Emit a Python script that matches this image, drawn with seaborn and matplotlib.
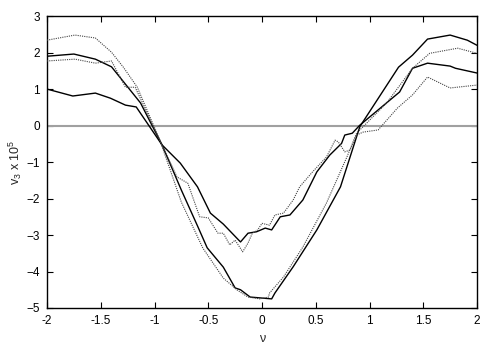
import numpy as np
import pandas as pd
import matplotlib
matplotlib.use("Agg")
import matplotlib.pyplot as plt
import seaborn as sns

# data
x_deep_solid = [-2.0, -1.75, -1.55, -1.40, -1.13, -0.93, -0.75, -0.60, -0.51, -0.36, -0.25, -0.20,
                -0.11, 0.09, 0.12, 0.29, 0.51, 0.73, 0.91, 1.27, 1.40, 1.54, 1.75, 1.91, 2.0]
y_deep_solid = [1.90, 1.96, 1.82, 1.61, 0.62, -0.53, -1.77, -2.75, -3.35, -3.88, -4.45, -4.50,
                -4.70, -4.75, -4.59, -3.87, -2.86, -1.68, -0.03, 1.60, 1.93, 2.37, 2.48, 2.34, 2.20]

x_shallow_solid = [-2.0, -1.76, -1.55, -1.41, -1.27, -1.17, -0.93, -0.76, -0.60, -0.48, -0.36,
                   -0.20, -0.13, -0.05, 0.03, 0.09, 0.17, 0.26, 0.38, 0.51, 0.63, 0.74, 0.77,
                   0.84, 0.91, 1.28, 1.40, 1.54, 1.75, 1.80, 2.0]
y_shallow_solid = [1.00, 0.81, 0.89, 0.75, 0.56, 0.51, -0.53, -1.03, -1.68, -2.40, -2.70,
                   -3.19, -2.95, -2.91, -2.81, -2.86, -2.50, -2.45, -2.04, -1.27, -0.81, -0.49, -0.26,
                   -0.21, 0.01, 0.92, 1.57, 1.71, 1.63, 1.57, 1.44]

x_deep_dot = [-2.0, -1.74, -1.55, -1.40, -1.29, -1.16, -0.95, -0.75, -0.55, -0.36, -0.23,
              -0.13, -0.02, 0.06, 0.07, 0.20, 0.38, 0.60, 0.79, 0.88, 1.16, 1.40, 1.56, 1.82, 2.0]
y_deep_dot = [2.34, 2.48, 2.40, 2.01, 1.60, 1.05, -0.40, -2.10, -3.36, -4.18, -4.51,
              -4.70, -4.75, -4.70, -4.59, -4.15, -3.33, -2.12, -0.86, -0.21, 0.62, 1.57, 1.98, 2.12, 1.98]

x_shallow_dot = [-2.0, -1.74, -1.55, -1.40, -1.27, -1.18, -0.93, -0.79, -0.69, -0.58, -0.50,
                 -0.41, -0.36, -0.30, -0.25, -0.18, -0.13, -0.09, -0.04, 0.0, 0.07, 0.12, 0.20,
                 0.29, 0.35, 0.47, 0.60, 0.68, 0.71, 0.77, 0.82, 0.88, 0.94, 1.08, 1.26, 1.40,
                 1.54, 1.75, 2.0]
y_shallow_dot = [1.77, 1.82, 1.71, 1.77, 1.05, 1.05, -0.53, -1.41, -1.58, -2.50, -2.53,
                 -2.95, -2.95, -3.27, -3.14, -3.46, -3.22, -2.95, -2.86, -2.68, -2.73, -2.45, -2.40,
                 -2.04, -1.68, -1.27, -0.86, -0.40, -0.45, -0.72, -0.67, -0.26, -0.18, -0.12, 0.48, 0.84,
                 1.33, 1.03, 1.11]

x_ticks = [-2, -1.5, -1, -0.5, 0, 0.5, 1, 1.5, 2]
x_tick_labels = ["-2", "-1.5", "-1", "-0.5", "0", "0.5", "1", "1.5", "2"]
y_ticks = [-5, -4, -3, -2, -1, 0, 1, 2, 3]

sns.set_style("ticks")
plt.rcParams['font.family'] = ['Liberation Sans', 'DejaVu Sans']
plt.rcParams['mathtext.fontset'] = 'custom'
plt.rcParams['mathtext.rm'] = 'Liberation Sans'
plt.rcParams['mathtext.it'] = 'Liberation Sans'

fig = plt.figure(figsize=(5, 3.5), dpi=100)
ax = fig.add_axes([0.094, 0.12, 0.86, 0.834])

ax.axhline(0, color='#a0a0a0', lw=1.5, zorder=1)

curves = [
    (x_deep_solid, y_deep_solid, '-', 'black', 1.0),
    (x_shallow_solid, y_shallow_solid, '-', 'black', 1.0),
    (x_deep_dot, y_deep_dot, (0, (1, 1)), '#444444', 0.8),
    (x_shallow_dot, y_shallow_dot, (0, (1, 1)), '#444444', 0.8),
]
for xs, ys, ls, col, lw in curves:
    df = pd.DataFrame({'x': xs, 'y': ys})
    sns.lineplot(data=df, x='x', y='y', ax=ax, sort=False, color=col,
                 linestyle=ls, linewidth=lw, estimator=None, zorder=3)

ax.set_xlim(-2, 2)
ax.set_ylim(-5, 3)
ax.set_xticks(x_ticks)
ax.set_xticklabels(x_tick_labels)
ax.set_yticks(y_ticks)
ax.tick_params(direction='in', top=True, right=True, length=4, width=0.8,
               labelsize=8.5, colors='black', pad=5)
for s in ax.spines.values():
    s.set_linewidth(1.0)
    s.set_color('black')

ax.set_xlabel('ν', fontsize=9, labelpad=4)
ax.set_ylabel('v$_3$ x 10$^5$', fontsize=9, labelpad=2)

fig.savefig('out.png', dpi=100)
